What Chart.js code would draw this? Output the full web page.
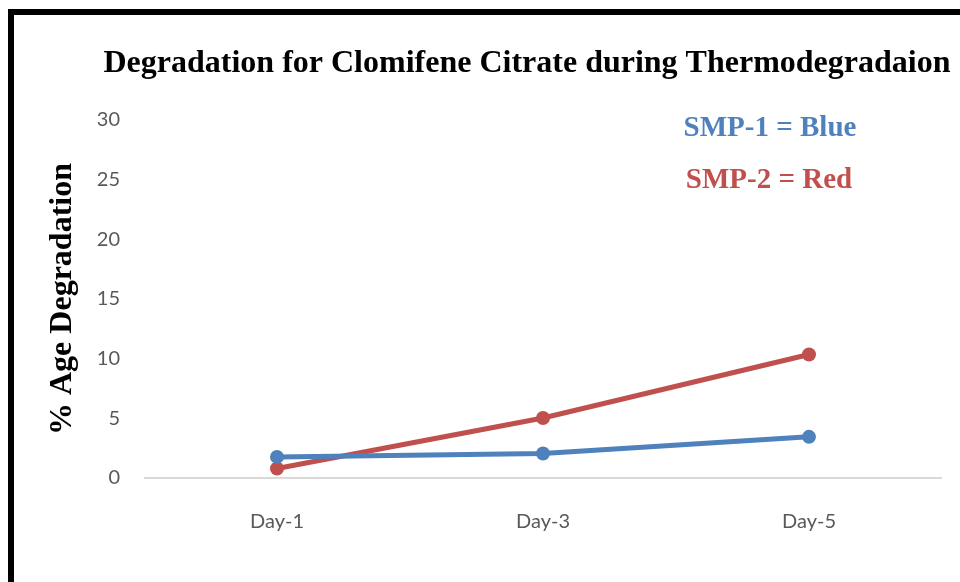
<!DOCTYPE html>
<html>
<head>
<meta charset="utf-8">
<script src="https://cdn.jsdelivr.net/npm/chart.js@4.4.1/dist/chart.umd.min.js"></script>
<style>
  html, body { margin: 0; padding: 0; background: #fff; }
  #wrap { position: relative; width: 960px; height: 582px; overflow: hidden; }
  canvas { display: block; }
</style>
</head>
<body>
<div id="wrap"><canvas id="c" width="960" height="582"></canvas></div>
<script>
const categories = ["Day-1", "Day-3", "Day-5"];
const smp1Values = [1.77, 2.05, 3.45];
const smp2Values = [0.8, 5.03, 10.35];
const yTicks = [0, 5, 10, 15, 20, 25, 30];
const chartTitle = "Degradation for Clomifene Citrate during Thermodegradaion";
const yAxisTitle = "% Age Degradation";
const legendLines = ["SMP-1 = Blue", "SMP-2 = Red"];

const BLUE = "#4f81bd";
const RED = "#c0504d";

const decor = {
  id: "decor",
  beforeDraw(chart) {
    const ctx = chart.ctx;
    ctx.save();
    ctx.fillStyle = "#fff";
    ctx.fillRect(0, 0, chart.width, chart.height);
    ctx.fillStyle = "#000";
    ctx.fillRect(8, 9, chart.width - 8, 6);
    ctx.fillRect(8, 9, 6, chart.height - 9);
    ctx.restore();
  },
  afterDraw(chart) {
    const ctx = chart.ctx;
    ctx.save();
    ctx.textAlign = "center";
    ctx.textBaseline = "middle";
    ctx.fillStyle = "#000";
    ctx.font = "bold 32px 'Liberation Serif', 'Times New Roman', serif";
    ctx.fillText(chartTitle, 527, 64);
    ctx.font = "bold 29px 'Liberation Serif', 'Times New Roman', serif";
    ctx.fillStyle = BLUE;
    ctx.fillText(legendLines[0], 770, 129);
    ctx.fillStyle = RED;
    ctx.fillText(legendLines[1], 769, 181);
    ctx.restore();
  }
};

new Chart(document.getElementById("c"), {
  type: "line",
  data: {
    labels: categories,
    datasets: [
      {
        label: "SMP-1",
        data: smp1Values,
        borderColor: BLUE,
        backgroundColor: BLUE,
        borderWidth: 5,
        pointRadius: 7,
        pointHoverRadius: 7,
        pointBorderWidth: 0,
        tension: 0
      },
      {
        label: "SMP-2",
        data: smp2Values,
        borderColor: RED,
        backgroundColor: RED,
        borderWidth: 5,
        pointRadius: 7,
        pointHoverRadius: 7,
        pointBorderWidth: 0,
        tension: 0
      }
    ]
  },
  options: {
    responsive: false,
    animation: false,
    devicePixelRatio: 1,
    layout: { padding: { top: 120, right: 18, left: 0, bottom: 0 } },
    plugins: {
      legend: { display: false },
      title: { display: false },
      tooltip: { enabled: false }
    },
    scales: {
      x: {
        offset: true,
        grid: { display: false },
        border: { display: false },
        ticks: {
          color: "#595959",
          font: { family: "Lato, 'Open Sans', sans-serif", size: 20 },
          padding: 24
        },
        afterFit(scale) { scale.height = 104; }
      },
      y: {
        min: 0,
        max: 30,
        afterBuildTicks(scale) { scale.ticks = yTicks.map(v => ({ value: v })); },
        grid: {
          drawTicks: false,
          lineWidth: 2,
          color: (c) => (c.tick && c.tick.value === 0 ? "#d9d9d9" : "rgba(0,0,0,0)")
        },
        border: { display: false },
        ticks: {
          color: "#595959",
          font: { family: "Lato, 'Open Sans', sans-serif", size: 20 },
          padding: 24
        },
        title: {
          display: true,
          text: yAxisTitle,
          color: "#000",
          font: { family: "'Liberation Serif', 'Times New Roman', serif", size: 32, weight: "bold" },
          padding: { top: 44, bottom: 0 }
        },
        afterFit(scale) { scale.width = 144; }
      }
    }
  },
  plugins: [decor]
});
</script>
</body>
</html>
